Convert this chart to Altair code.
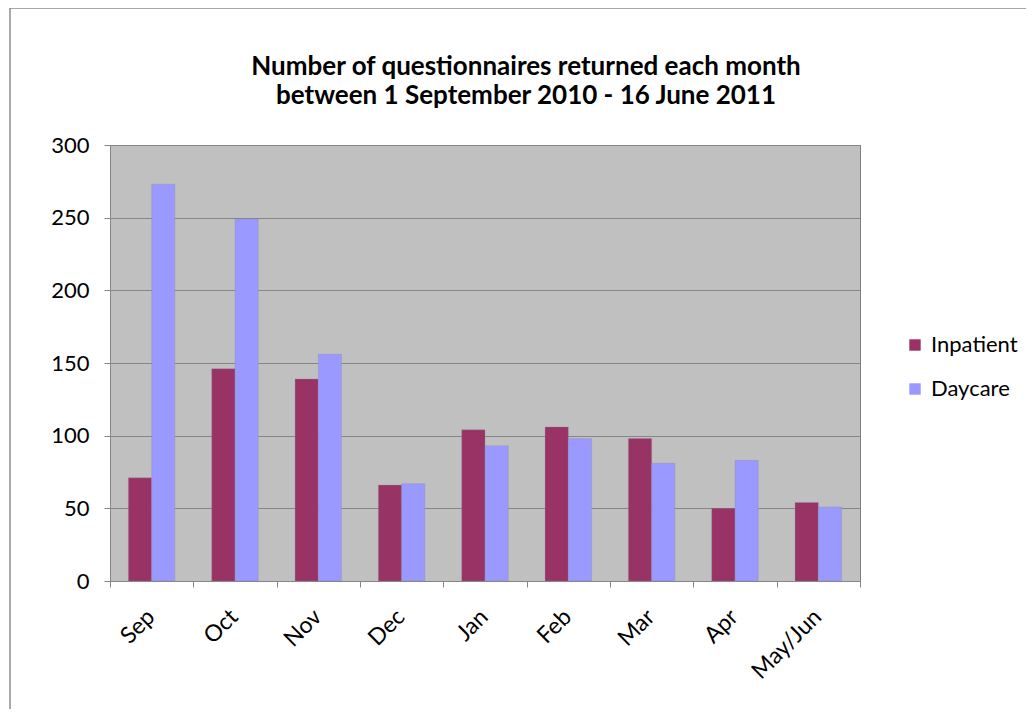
import altair as alt
import pandas as pd

months = ["Sep", "Oct", "Nov", "Dec", "Jan", "Feb", "Mar", "Apr", "May/Jun"]
inpatient = [71, 146, 139, 66, 104, 106, 98, 50, 54]
daycare = [273, 249, 156, 67, 93, 98, 81, 83, 51]
series = ["Inpatient", "Daycare"]
colors = ["#993366", "#9999FF"]
y_ticks = [0, 50, 100, 150, 200, 250, 300]
title_lines = ["Number of questionnaires returned each month",
               "between 1 September 2010 - 16 June 2011"]

rows = []
for m, a, b in zip(months, inpatient, daycare):
    rows.append({"month": m, "series": series[0], "value": a})
    rows.append({"month": m, "series": series[1], "value": b})
df = pd.DataFrame(rows)

FONT = "Lato"
W, H = 750, 436

bars = alt.Chart(df).mark_bar(stroke="#8a8aa0", strokeWidth=0.3).encode(
    x=alt.X("month:N", sort=months,
            scale=alt.Scale(paddingInner=0, paddingOuter=0),
            axis=alt.Axis(title=None, labelAngle=-45, tickBand="extent",
                          tickSize=6, labelPadding=26, grid=False,
                          labelFontSize=23, labelAlign="right",
                          labelBaseline="middle", labelOffset=-1)),
    xOffset=alt.XOffset("series:N", sort=series,
                        scale=alt.Scale(paddingInner=0, paddingOuter=0.79)),
    y=alt.Y("value:Q", scale=alt.Scale(domain=[0, 300]),
            axis=alt.Axis(title=None, values=y_ticks, tickSize=6,
                          labelPadding=15, grid=True, labelFontSize=22)),
    color=alt.Color("series:N", sort=series,
                    scale=alt.Scale(domain=series, range=colors),
                    legend=alt.Legend(title=None, orient="none",
                                      legendX=794, legendY=189,
                                      symbolType="square", symbolSize=130,
                                      symbolStrokeWidth=0,
                                      labelFontSize=22, labelOffset=5,
                                      rowPadding=22, labelFont=FONT)),
)

title = alt.Chart(alt.Data(values=[{}])).mark_text(
    font=FONT, fontSize=26, fontWeight="bold", color="#000000",
    align="center", baseline="alphabetic", lineHeight=29).encode(
    x=alt.value(416), y=alt.value(-70), text=alt.value(title_lines))

frame_left = alt.Chart(alt.Data(values=[{}])).mark_rule(
    color="#8c8c8c", strokeWidth=1.5).encode(
    x=alt.value(-100), y=alt.value(-137), y2=alt.value(H + 140))
frame_top = alt.Chart(alt.Data(values=[{}])).mark_rule(
    color="#8c8c8c", strokeWidth=1.5).encode(
    x=alt.value(-100), x2=alt.value(W + 170), y=alt.value(-137))

chart = alt.layer(frame_left, frame_top, title, bars).properties(
    width=W, height=H,
    autosize=alt.AutoSizeParams(type="none"),
    padding={"left": 102, "top": 137, "right": 166, "bottom": 128},
).configure_view(
    fill="#C0C0C0", stroke="#808080", strokeWidth=1
).configure_axis(
    domainColor="#868686", tickColor="#868686", gridColor="#868686",
    gridWidth=1, labelColor="#000000", labelFont=FONT,
).configure_legend(
    labelColor="#000000"
)

chart.save("out.html", embed_options={"renderer": "svg", "actions": False})
